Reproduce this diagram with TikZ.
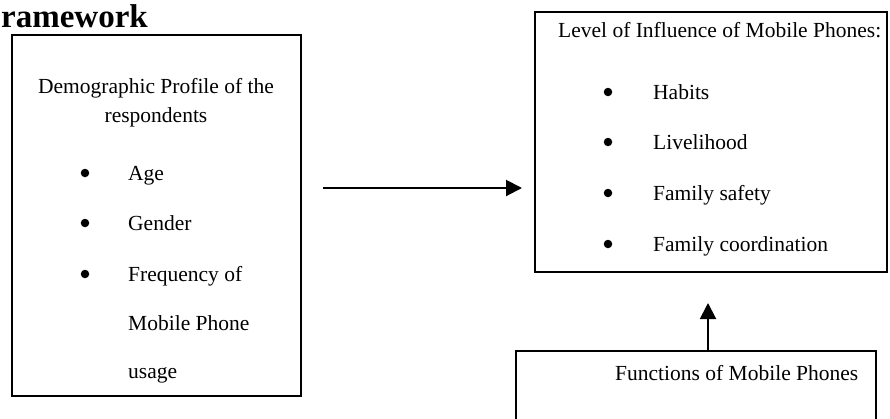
\documentclass[tikz,border=0pt]{standalone}
\usepackage{fontspec}
\setmainfont{Liberation Serif}
\usetikzlibrary{arrows.meta}
\begin{document}
\begin{tikzpicture}[x=1pt,y=-1pt,
  boxnode/.style={draw=black,line width=2pt,inner sep=0pt,fill=none},
  txt/.style={inner sep=0pt,anchor=base west,font=\fontsize{21.5}{24}\selectfont},
  ctxt/.style={inner sep=0pt,anchor=base,font=\fontsize{21.5}{24}\selectfont},
  bul/.style={circle,fill=black,inner sep=0pt,minimum size=8.5pt},
  arr/.style={line width=2pt,-{Triangle[length=16pt,width=16pt]}}]
\useasboundingbox (0,0) rectangle (890,418);
% title
\node[inner sep=0pt,anchor=base east,font=\fontsize{33}{36}\selectfont\bfseries] (title) at (148,27) {Framework};
% boxes
\node[boxnode,minimum width=289pt,minimum height=361pt] (left) at (156,215) {};
\node[boxnode,minimum width=352pt,minimum height=260pt] (right) at (711,142) {};
\node[boxnode,minimum width=360pt,minimum height=100pt] (bottom) at (696,401) {};
% left box text
\node[ctxt] (l1) at (156,93) {Demographic Profile of the};
\node[ctxt] (l2) at (156,122) {respondents};
\node[bul] (b1) at (85,173) {};
\node[txt] (t1) at (128,180) {Age};
\node[bul] (b2) at (85,223) {};
\node[txt] (t2) at (128,230) {Gender};
\node[bul] (b3) at (85,274) {};
\node[txt] (t3) at (128,281) {Frequency of};
\node[txt] (t4) at (128,330) {Mobile Phone};
\node[txt] (t5) at (128,378) {usage};
% right box text
\node[txt] (r0) at (558,37) {Level of Influence of Mobile Phones:};
\node[bul] (rb1) at (608,92) {};
\node[txt] (r1) at (653,99) {Habits};
\node[bul] (rb2) at (608,142) {};
\node[txt] (r2) at (653,149) {Livelihood};
\node[bul] (rb3) at (608,193) {};
\node[txt] (r3) at (653,200) {Family safety};
\node[bul] (rb4) at (608,244) {};
\node[txt] (r4) at (653,251) {Family coordination};
% bottom box text
\node[txt] (f1) at (615,380) {Functions of Mobile Phones};
% arrows
\coordinate (hs) at (323,188);
\coordinate (he) at (522,188);
\draw[arr] (hs) -- (he);
\coordinate (vt) at (708,303);
\draw[arr] (bottom.north -| vt) -- (vt);
\end{tikzpicture}
\end{document}
